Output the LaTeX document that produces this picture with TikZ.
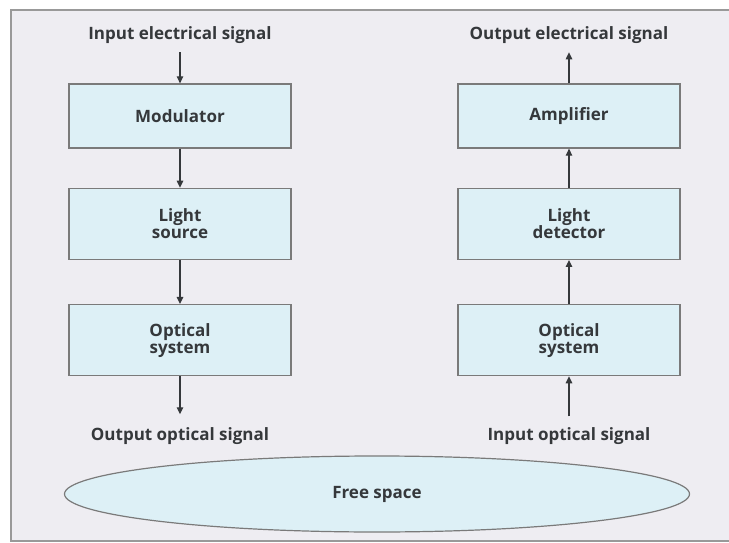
\documentclass[tikz,border=0pt]{standalone}
\usepackage{fontspec}
\setmainfont{Open Sans}
\usetikzlibrary{positioning,arrows.meta,calc,shapes.geometric}
\definecolor{panel}{HTML}{EEEDF2}
\definecolor{boxfill}{HTML}{DDF0F6}
\definecolor{edge}{HTML}{7A7A7A}
\definecolor{ink}{HTML}{35383B}
\tikzset{
  frame/.style ={draw=black!40, line width=1.6pt, fill=panel},
  box/.style   ={draw=edge, line width=1.3pt, fill=boxfill, minimum width=222pt,
                 align=center, font=\fontsize{17}{17}\selectfont\bfseries, text=ink},
  lbl/.style   ={font=\fontsize{17}{17}\selectfont\bfseries, text=ink},
  fl/.style    ={-{Triangle[length=7pt,width=6.5pt]}, line width=1.2pt, draw=ink},
  space/.style ={ellipse, draw=edge, line width=1.2pt, fill=boxfill,
                 minimum width=625pt, minimum height=76pt,
                 font=\fontsize{17}{17}\selectfont\bfseries, text=ink}
}

\begin{document}
\begin{tikzpicture}[x=1pt,y=1pt]
  \useasboundingbox (0,0) rectangle (729,-543);
  \clip (0,0) rectangle (729,-543);
  \draw[frame] (11,-10) rectangle (760,-541);

  % transmitter
  \node[box, minimum height=64pt] (mod) at (180,-116) {Modulator};
  \node[box, minimum height=71pt, below=39pt of mod] (src) {Light\\source};
  \node[box, minimum height=71pt, below=44pt of src] (optA) {Optical\\system};
  \node[lbl, above=36pt of mod] (inel) {Input electrical signal};
  \node[lbl, below=48pt of optA] (outop) {Output optical signal};

  % receiver
  \node[box, minimum height=64pt] (amp) at (569,-116) {Amplifier};
  \node[box, minimum height=71pt, below=39pt of amp] (det) {Light\\detector};
  \node[box, minimum height=71pt, below=44pt of det] (optB) {Optical\\system};
  \node[lbl, above=36pt of amp] (outel) {Output electrical signal};
  \node[lbl, below=48pt of optB] (inop) {Input optical signal};

  \node[space] (free) at (377,-494) {Free space};

  \draw[fl, shorten <=5pt] (inel) -- (mod);
  \draw[fl] (mod) -- (src);
  \draw[fl] (src) -- (optA);
  \draw[fl, shorten >=10pt] (optA) -- (outop);
  \draw[fl, shorten <=8pt] (inop) -- (optB);
  \draw[fl] (optB) -- (det);
  \draw[fl] (det) -- (amp);
  \draw[fl, shorten >=5pt] (amp) -- (outel);
\end{tikzpicture}
\end{document}
